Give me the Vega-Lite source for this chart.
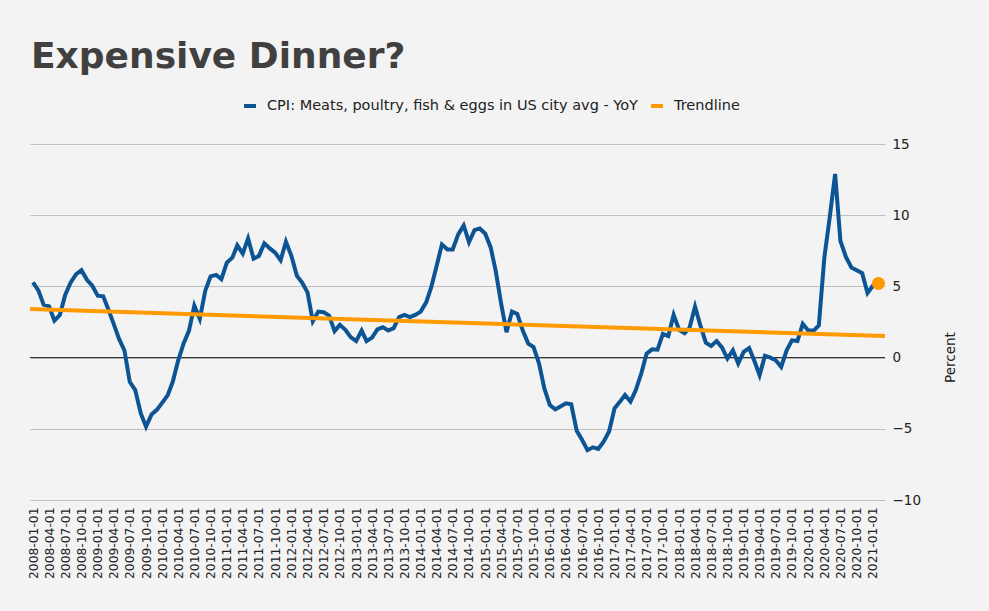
{
  "$schema": "https://vega.github.io/schema/vega-lite/v6.json",
  "autosize": {"type": "none"},
  "padding": {"left": 30, "top": 144, "right": 104, "bottom": 111},
  "width": 855,
  "height": 356,
  "background": "#f3f3f3",
  "title": {
    "text": "Expensive Dinner?",
    "anchor": "start",
    "frame": "group",
    "font": "DejaVu Sans",
    "fontSize": 36,
    "fontWeight": "bold",
    "color": "#404040",
    "baseline": "alphabetic",
    "offset": -6,
    "dx": 1
  },
  "datasets": {
    "cpi": [
      {"d":"2008-01-01","v":5.28},{"d":"2008-02-01","v":4.7},{"d":"2008-03-01","v":3.72},{"d":"2008-04-01","v":3.6},
      {"d":"2008-05-01","v":2.6},{"d":"2008-06-01","v":3.0},{"d":"2008-07-01","v":4.4},{"d":"2008-08-01","v":5.28},
      {"d":"2008-09-01","v":5.86},{"d":"2008-10-01","v":6.14},{"d":"2008-11-01","v":5.47},{"d":"2008-12-01","v":5.05},
      {"d":"2009-01-01","v":4.35},{"d":"2009-02-01","v":4.3},{"d":"2009-03-01","v":3.42},{"d":"2009-04-01","v":2.37},
      {"d":"2009-05-01","v":1.33},{"d":"2009-06-01","v":0.5},{"d":"2009-07-01","v":-1.7},{"d":"2009-08-01","v":-2.28},
      {"d":"2009-09-01","v":-3.9},{"d":"2009-10-01","v":-4.85},{"d":"2009-11-01","v":-4.0},{"d":"2009-12-01","v":-3.67},
      {"d":"2010-01-01","v":-3.16},{"d":"2010-02-01","v":-2.63},{"d":"2010-03-01","v":-1.7},{"d":"2010-04-01","v":-0.19},
      {"d":"2010-05-01","v":0.98},{"d":"2010-06-01","v":1.9},{"d":"2010-07-01","v":3.65},{"d":"2010-08-01","v":2.72},
      {"d":"2010-09-01","v":4.7},{"d":"2010-10-01","v":5.7},{"d":"2010-11-01","v":5.81},{"d":"2010-12-01","v":5.51},
      {"d":"2011-01-01","v":6.67},{"d":"2011-02-01","v":7.02},{"d":"2011-03-01","v":7.88},{"d":"2011-04-01","v":7.3},
      {"d":"2011-05-01","v":8.37},{"d":"2011-06-01","v":6.95},{"d":"2011-07-01","v":7.14},{"d":"2011-08-01","v":8.02},
      {"d":"2011-09-01","v":7.67},{"d":"2011-10-01","v":7.37},{"d":"2011-11-01","v":6.84},{"d":"2011-12-01","v":8.14},
      {"d":"2012-01-01","v":7.14},{"d":"2012-02-01","v":5.74},{"d":"2012-03-01","v":5.28},{"d":"2012-04-01","v":4.58},
      {"d":"2012-05-01","v":2.55},{"d":"2012-06-01","v":3.23},{"d":"2012-07-01","v":3.19},{"d":"2012-08-01","v":2.95},
      {"d":"2012-09-01","v":1.86},{"d":"2012-10-01","v":2.3},{"d":"2012-11-01","v":1.95},{"d":"2012-12-01","v":1.44},
      {"d":"2013-01-01","v":1.16},{"d":"2013-02-01","v":1.9},{"d":"2013-03-01","v":1.16},{"d":"2013-04-01","v":1.4},
      {"d":"2013-05-01","v":1.98},{"d":"2013-06-01","v":2.14},{"d":"2013-07-01","v":1.9},{"d":"2013-08-01","v":2.07},
      {"d":"2013-09-01","v":2.84},{"d":"2013-10-01","v":3.0},{"d":"2013-11-01","v":2.84},{"d":"2013-12-01","v":3.0},
      {"d":"2014-01-01","v":3.23},{"d":"2014-02-01","v":3.88},{"d":"2014-03-01","v":4.93},{"d":"2014-04-01","v":6.44},
      {"d":"2014-05-01","v":7.95},{"d":"2014-06-01","v":7.6},{"d":"2014-07-01","v":7.6},{"d":"2014-08-01","v":8.65},
      {"d":"2014-09-01","v":9.28},{"d":"2014-10-01","v":8.1},{"d":"2014-11-01","v":8.95},{"d":"2014-12-01","v":9.07},
      {"d":"2015-01-01","v":8.7},{"d":"2015-02-01","v":7.72},{"d":"2015-03-01","v":6.09},{"d":"2015-04-01","v":3.77},
      {"d":"2015-05-01","v":1.79},{"d":"2015-06-01","v":3.23},{"d":"2015-07-01","v":3.07},{"d":"2015-08-01","v":1.9},
      {"d":"2015-09-01","v":0.98},{"d":"2015-10-01","v":0.74},{"d":"2015-11-01","v":-0.42},{"d":"2015-12-01","v":-2.16},
      {"d":"2016-01-01","v":-3.33},{"d":"2016-02-01","v":-3.63},{"d":"2016-03-01","v":-3.44},{"d":"2016-04-01","v":-3.21},
      {"d":"2016-05-01","v":-3.28},{"d":"2016-06-01","v":-5.14},{"d":"2016-07-01","v":-5.77},{"d":"2016-08-01","v":-6.5},
      {"d":"2016-09-01","v":-6.3},{"d":"2016-10-01","v":-6.42},{"d":"2016-11-01","v":-5.88},{"d":"2016-12-01","v":-5.19},
      {"d":"2017-01-01","v":-3.56},{"d":"2017-02-01","v":-3.09},{"d":"2017-03-01","v":-2.63},{"d":"2017-04-01","v":-3.09},
      {"d":"2017-05-01","v":-2.28},{"d":"2017-06-01","v":-1.12},{"d":"2017-07-01","v":0.28},{"d":"2017-08-01","v":0.58},
      {"d":"2017-09-01","v":0.56},{"d":"2017-10-01","v":1.67},{"d":"2017-11-01","v":1.51},{"d":"2017-12-01","v":3.0},
      {"d":"2018-01-01","v":1.95},{"d":"2018-02-01","v":1.72},{"d":"2018-03-01","v":2.09},{"d":"2018-04-01","v":3.58},
      {"d":"2018-05-01","v":2.26},{"d":"2018-06-01","v":1.05},{"d":"2018-07-01","v":0.81},{"d":"2018-08-01","v":1.16},
      {"d":"2018-09-01","v":0.7},{"d":"2018-10-01","v":-0.07},{"d":"2018-11-01","v":0.51},{"d":"2018-12-01","v":-0.42},
      {"d":"2019-01-01","v":0.4},{"d":"2019-02-01","v":0.67},{"d":"2019-03-01","v":-0.19},{"d":"2019-04-01","v":-1.23},
      {"d":"2019-05-01","v":0.12},{"d":"2019-06-01","v":0.0},{"d":"2019-07-01","v":-0.19},{"d":"2019-08-01","v":-0.65},
      {"d":"2019-09-01","v":0.51},{"d":"2019-10-01","v":1.21},{"d":"2019-11-01","v":1.16},{"d":"2019-12-01","v":2.37},
      {"d":"2020-01-01","v":1.9},{"d":"2020-02-01","v":1.9},{"d":"2020-03-01","v":2.26},{"d":"2020-04-01","v":7.02},
      {"d":"2020-05-01","v":9.81},{"d":"2020-06-01","v":12.9},{"d":"2020-07-01","v":8.19},{"d":"2020-08-01","v":7.07},
      {"d":"2020-09-01","v":6.33},{"d":"2020-10-01","v":6.14},{"d":"2020-11-01","v":5.93},{"d":"2020-12-01","v":4.53},
      {"d":"2021-01-01","v":5.05},{"d":"2021-02-01","v":5.21}
    ],
    "trend": [
      {"d":"2007-12-15","v":3.41},
      {"d":"2021-03-10","v":1.51}
    ],
    "last": [
      {"d":"2021-02-01","v":5.21}
    ],
    "zero": [
      {"v":0}
    ]
  },
  "encoding": {
    "x": {
      "field": "d",
      "type": "temporal",
      "scale": {
        "type": "utc",
        "domain": [
          {"year": 2007, "month": 12, "date": 15, "utc": true},
          {"year": 2021, "month": 3, "date": 10, "utc": true}
        ]
      },
      "axis": {
        "title": null,
        "grid": false,
        "domain": false,
        "ticks": false,
        "tickCount": {"interval": "month", "step": 3},
        "format": "%Y-%m-%d",
        "labelAngle": 270,
        "labelPadding": 7,
        "labelFontSize": 12.3,
        "labelColor": "#222222",
        "labelFont": "DejaVu Sans",
        "labelOverlap": false,
        "labelFlush": false
      }
    },
    "y": {
      "field": "v",
      "type": "quantitative",
      "scale": {"domain": [-10, 15], "nice": false, "zero": false},
      "axis": {
        "orient": "right",
        "values": [-10, -5, 0, 5, 10, 15],
        "grid": true,
        "gridColor": "#c0c0c0",
        "gridWidth": 1,
        "domain": false,
        "ticks": false,
        "labelPadding": 7,
        "labelFontSize": 13.5,
        "labelColor": "#222222",
        "labelFont": "DejaVu Sans",
        "title": "Percent",
        "titleFont": "DejaVu Sans",
        "titleFontSize": 13.5,
        "titleFontWeight": "normal",
        "titleColor": "#222222",
        "titleAngle": 270,
        "titleX": 65,
        "titleY": 213,
        "titleAlign": "center",
        "titleBaseline": "middle"
      }
    }
  },
  "layer": [
    {
      "data": {"name": "zero"},
      "mark": {"type": "rule", "color": "#222222", "strokeWidth": 1},
      "encoding": {"x": null, "y": {"field": "v", "type": "quantitative"}}
    },
    {
      "data": {"name": "cpi"},
      "mark": {"type": "line", "strokeWidth": 4, "strokeJoin": "miter"},
      "encoding": {
        "color": {
          "datum": "CPI: Meats, poultry, fish & eggs in US city avg - YoY",
          "type": "nominal",
          "scale": {
            "domain": ["CPI: Meats, poultry, fish & eggs in US city avg - YoY", "Trendline"],
            "range": ["#0c5494", "#ff9a00"]
          },
          "legend": {
            "orient": "none",
            "legendX": 212,
            "legendY": -46,
            "direction": "horizontal",
            "title": null,
            "symbolType": "stroke",
            "symbolStrokeWidth": 4,
            "symbolSize": 144,
            "labelFontSize": 14.5,
            "labelFont": "DejaVu Sans",
            "labelColor": "#222222",
            "labelLimit": 0,
            "columnPadding": 5,
            "labelOffset": 9
          }
        }
      }
    },
    {
      "data": {"name": "trend"},
      "mark": {"type": "line", "strokeWidth": 4},
      "encoding": {
        "color": {"datum": "Trendline", "type": "nominal"}
      }
    },
    {
      "data": {"name": "last"},
      "mark": {"type": "circle", "size": 170, "opacity": 1, "color": "#ff9a00"},
      "encoding": {}
    }
  ],
  "config": {
    "view": {"stroke": null},
    "font": "DejaVu Sans"
  }
}
